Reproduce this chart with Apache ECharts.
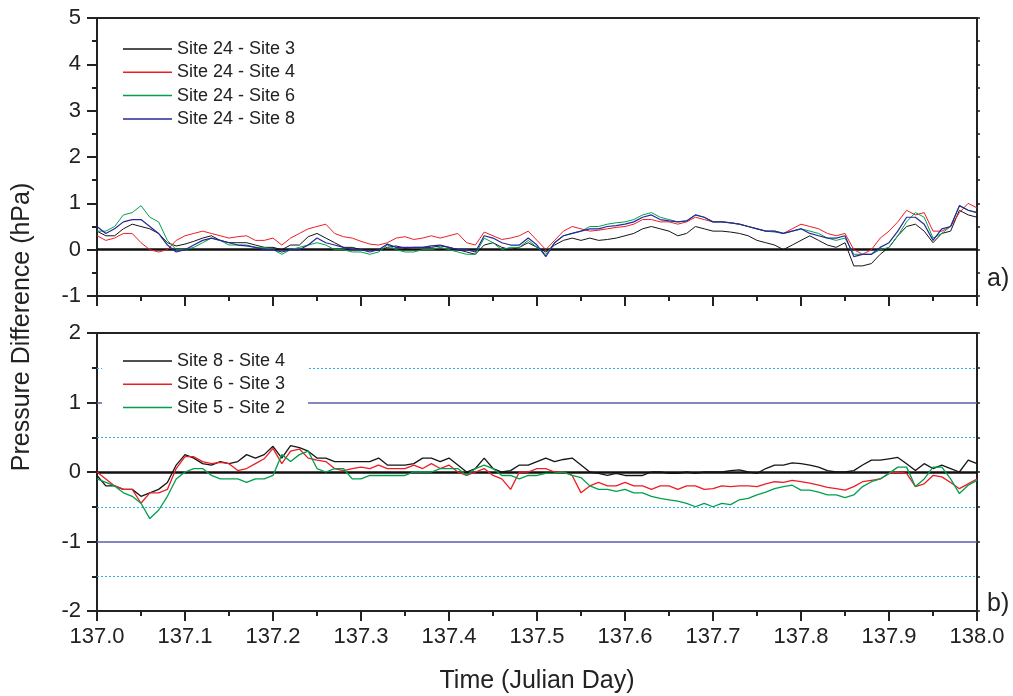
<!DOCTYPE html>
<html><head><meta charset="utf-8">
<script src="https://cdn.jsdelivr.net/npm/echarts@6/dist/echarts.min.js"></script>
<style>html,body{margin:0;padding:0;background:#fff}#c{width:1013px;height:696px}</style>
</head><body><div id="c"></div>
<script>
// Sample times: 137.00 .. 138.00 every 0.01 day
const timeStart = 137.0;
const timeStep = 0.01;

const topNames = ['Site 24 - Site 3', 'Site 24 - Site 4', 'Site 24 - Site 6', 'Site 24 - Site 8'];
const bottomNames = ['Site 8 - Site 4', 'Site 6 - Site 3', 'Site 5 - Site 2'];

const xTickLabels = ['137.0','137.1','137.2','137.3','137.4','137.5','137.6','137.7','137.8','137.9','138.0'];
const topYTicks = [-1, 0, 1, 2, 3, 4, 5];
const bottomYTicks = [-2, -1, 0, 1, 2];

// Panel a)
const s24_3 = [0.4,0.3,0.3,0.45,0.55,0.5,0.45,0.35,0.15,0.08,
  0.12,0.18,0.25,0.3,0.2,0.15,0.15,0.15,0.1,0.05,
  0.05,0.0,0.1,0.1,0.28,0.35,0.25,0.15,0.05,0.05,
  0.0,0.0,-0.02,0.05,0.08,0.03,0.05,0.05,0.05,0.08,
  0.05,0.0,-0.05,-0.1,0.1,0.15,0.05,0.0,0.05,0.15,
  0.05,-0.05,0.1,0.2,0.25,0.2,0.25,0.2,0.22,0.25,
  0.3,0.35,0.45,0.5,0.45,0.4,0.3,0.35,0.5,0.45,
  0.4,0.4,0.38,0.35,0.3,0.2,0.15,0.1,0.0,0.1,
  0.2,0.3,0.2,0.1,0.05,0.15,-0.35,-0.35,-0.3,-0.1,
  0.05,0.3,0.5,0.55,0.4,0.15,0.35,0.4,0.85,0.75,0.7];
const s24_4 = [0.3,0.2,0.25,0.35,0.35,0.15,0.0,-0.05,0.0,0.2,
  0.3,0.35,0.4,0.35,0.3,0.25,0.28,0.3,0.2,0.2,
  0.25,0.1,0.25,0.35,0.45,0.5,0.55,0.35,0.28,0.25,
  0.18,0.12,0.1,0.15,0.25,0.28,0.22,0.25,0.3,0.25,
  0.3,0.35,0.15,0.1,0.38,0.3,0.22,0.25,0.3,0.4,
  0.2,0.0,0.2,0.4,0.5,0.45,0.4,0.42,0.45,0.48,
  0.5,0.55,0.65,0.65,0.6,0.6,0.55,0.6,0.7,0.65,
  0.6,0.6,0.58,0.55,0.5,0.45,0.4,0.4,0.35,0.45,
  0.55,0.5,0.45,0.35,0.3,0.35,0.0,-0.1,0.0,0.25,
  0.4,0.6,0.85,0.75,0.8,0.4,0.4,0.5,0.8,1.0,0.9];
const s24_6 = [0.4,0.4,0.5,0.75,0.8,0.95,0.7,0.6,0.2,0.0,
  0.0,0.05,0.15,0.25,0.2,0.1,0.1,0.1,0.05,0.05,
  0.0,-0.1,0.0,0.05,0.1,0.15,0.1,0.0,0.0,-0.05,
  -0.05,-0.1,-0.05,0.1,0.0,-0.05,-0.05,0.0,0.0,0.05,
  0.0,-0.05,-0.1,-0.1,0.25,0.15,0.0,0.05,0.05,0.2,
  0.05,-0.1,0.15,0.3,0.35,0.4,0.5,0.5,0.55,0.58,
  0.6,0.65,0.75,0.8,0.7,0.65,0.6,0.62,0.75,0.7,
  0.6,0.6,0.58,0.55,0.5,0.45,0.4,0.38,0.35,0.4,
  0.45,0.4,0.35,0.25,0.2,0.25,-0.1,-0.1,-0.1,0.0,
  0.05,0.3,0.6,0.8,0.7,0.25,0.35,0.5,0.95,0.85,0.8];
const s24_8 = [0.5,0.35,0.45,0.6,0.65,0.65,0.5,0.35,0.1,-0.05,
  0.0,0.1,0.2,0.25,0.2,0.15,0.1,0.08,0.05,0.0,
  0.0,-0.05,0.0,0.0,0.1,0.25,0.15,0.1,0.05,0.0,
  0.0,-0.05,0.0,0.12,0.05,0.05,0.05,0.05,0.08,0.1,
  0.05,0.0,0.0,-0.05,0.3,0.25,0.15,0.1,0.1,0.25,
  0.1,-0.15,0.15,0.3,0.35,0.4,0.45,0.45,0.5,0.52,
  0.55,0.6,0.7,0.75,0.65,0.62,0.6,0.62,0.75,0.7,
  0.6,0.6,0.58,0.55,0.5,0.45,0.4,0.4,0.35,0.4,
  0.45,0.35,0.3,0.25,0.25,0.3,-0.15,-0.1,-0.1,0.05,
  0.15,0.4,0.7,0.7,0.55,0.2,0.45,0.5,0.95,0.85,0.8];

// Panel b)
const s8_4 = [-0.05,-0.2,-0.2,-0.25,-0.25,-0.35,-0.3,-0.25,-0.15,0.1,
  0.25,0.2,0.12,0.1,0.15,0.12,0.15,0.25,0.2,0.25,
  0.37,0.2,0.38,0.35,0.3,0.2,0.2,0.15,0.15,0.15,
  0.15,0.15,0.2,0.1,0.1,0.1,0.12,0.2,0.2,0.15,
  0.2,0.1,0.0,0.05,0.2,0.05,0.0,0.02,0.1,0.1,
  0.15,0.2,0.15,0.18,0.2,0.1,0.0,-0.02,-0.05,-0.02,
  -0.05,-0.05,-0.05,0.0,0.0,-0.02,-0.02,0.0,-0.02,0.0,
  0.0,0.0,0.02,0.03,0.0,-0.02,0.05,0.1,0.1,0.13,
  0.12,0.1,0.07,0.02,0.0,0.0,0.02,0.1,0.17,0.17,
  0.19,0.21,0.12,0.02,0.12,0.05,0.1,0.05,0.0,0.17,0.12];
const s6_3 = [0.0,-0.1,-0.2,-0.25,-0.25,-0.45,-0.3,-0.3,-0.25,0.05,
  0.22,0.22,0.15,0.12,0.14,0.12,0.02,0.05,0.12,0.19,
  0.34,0.12,0.3,0.33,0.2,0.17,0.15,0.05,0.02,0.05,
  0.07,0.05,0.1,0.05,0.05,0.05,0.1,0.05,0.12,0.05,
  0.1,0.0,-0.05,0.0,0.05,-0.05,-0.1,-0.25,0.0,0.0,
  0.05,0.05,0.0,0.0,-0.05,-0.3,-0.2,-0.15,-0.2,-0.2,
  -0.15,-0.2,-0.2,-0.25,-0.2,-0.2,-0.25,-0.2,-0.2,-0.25,
  -0.24,-0.2,-0.21,-0.2,-0.2,-0.21,-0.17,-0.14,-0.15,-0.12,
  -0.14,-0.16,-0.19,-0.22,-0.24,-0.26,-0.21,-0.14,-0.12,-0.1,
  -0.02,0.0,-0.02,-0.21,-0.17,-0.05,-0.07,-0.15,-0.24,-0.17,-0.1];
const s5_2 = [-0.1,-0.15,-0.2,-0.3,-0.35,-0.45,-0.67,-0.55,-0.35,-0.1,
  0.0,0.05,0.05,-0.05,-0.1,-0.1,-0.1,-0.15,-0.1,-0.1,
  -0.05,0.25,0.15,0.25,0.3,0.05,0.0,0.05,0.05,-0.1,
  -0.1,-0.05,-0.05,-0.05,-0.05,-0.05,0.0,0.0,0.0,0.05,
  0.05,0.05,-0.05,0.05,0.1,0.05,-0.05,-0.05,-0.1,-0.05,
  -0.05,-0.02,-0.02,0.0,-0.05,-0.08,-0.2,-0.25,-0.25,-0.28,
  -0.25,-0.3,-0.3,-0.35,-0.38,-0.4,-0.42,-0.45,-0.5,-0.45,
  -0.5,-0.45,-0.47,-0.4,-0.38,-0.33,-0.29,-0.24,-0.21,-0.19,
  -0.26,-0.26,-0.29,-0.33,-0.33,-0.37,-0.33,-0.21,-0.14,-0.1,
  -0.02,0.07,0.07,-0.21,-0.1,0.07,0.07,-0.1,-0.31,-0.19,-0.12];

function pts(vals) { return vals.map((v, i) => [timeStart + i * timeStep, v]); }

const txt = '#222';
const font = 'Liberation Sans, Arial, sans-serif';

function xAx(grid, showLabels) {
  return {
    gridIndex: grid, type: 'value', min: 137, max: 138, interval: 0.1,
    axisLine: { onZero: false, lineStyle: { color: txt, width: 2 } },
    axisTick: { show: true, inside: false, length: 10, lineStyle: { color: txt, width: 2 } },
    minorTick: { show: true, splitNumber: 2, length: 5, lineStyle: { color: txt, width: 2 } },
    splitLine: { show: false },
    axisLabel: showLabels ? { show: true, fontSize: 22, color: txt, fontFamily: font, margin: 15,
      formatter: v => xTickLabels[Math.round((v - 137) * 10)] } : { show: false },
    name: showLabels ? 'Time (Julian Day)' : '',
    nameLocation: 'middle', nameGap: 58,
    nameTextStyle: { fontSize: 25, color: txt, fontFamily: font }
  };
}
function xTopBorder(grid) {
  return { gridIndex: grid, type: 'value', position: 'top', min: 137, max: 138,
    axisLine: { onZero: false, lineStyle: { color: txt, width: 2 } }, axisTick: { show: false },
    axisLabel: { show: false }, splitLine: { show: false } };
}
function yAx(grid, ticks) {
  return {
    gridIndex: grid, type: 'value', min: ticks[0], max: ticks[ticks.length - 1], interval: 1,
    axisLine: { show: true, onZero: false, lineStyle: { color: txt, width: 2 } },
    axisTick: { show: true, inside: false, length: 10, lineStyle: { color: txt, width: 2 } },
    minorTick: { show: true, splitNumber: 2, length: 5, lineStyle: { color: txt, width: 2 } },
    splitLine: { show: false },
    axisLabel: { fontSize: 22, color: txt, fontFamily: font, margin: 16,
      formatter: v => String(ticks[ticks.indexOf(v)]) }
  };
}
function yRight(grid, ticks) {
  return {
    gridIndex: grid, type: 'value', position: 'right', min: ticks[0], max: ticks[ticks.length - 1], interval: 0.5,
    axisLine: { show: true, onZero: false, lineStyle: { color: txt, width: 2 } },
    axisTick: { show: true, inside: false, length: 3, lineStyle: { color: txt, width: 1.5 } },
    axisLabel: { show: false }, splitLine: { show: false }
  };
}

const zeroLine = { yAxis: 0, lineStyle: { color: '#111', width: 2.5, type: 'solid' } };
const blueLine = v => ({ yAxis: v, lineStyle: { color: '#5c5cae', width: 1.5, type: 'solid' } });
const dotLine = v => ({ yAxis: v, lineStyle: { color: '#2fb0e8', width: 1, type: [2, 2] } });

function lineSeries(name, vals, color, x, y, width, ml) {
  const s = { name, type: 'line', xAxisIndex: x, yAxisIndex: y, data: pts(vals), symbol: 'none',
    showSymbol: false, lineStyle: { color, width }, itemStyle: { color }, animation: false, z: 3 };
  if (ml) s.markLine = { silent: true, symbol: ['none', 'none'], label: { show: false }, data: ml, animation: false, z: 2 };
  return s;
}

const colBlack = '#151515', colRed = '#ee1d24', colGreen = '#00a04b', colBlue = '#27279a';

const legendCommon = {
  orient: 'vertical', left: 102, itemWidth: 49, itemHeight: 1.5, itemGap: 5.3, icon: 'rect',
  backgroundColor: '#fff', padding: [6, 23, 6, 21], z: 10,
  textStyle: { fontSize: 18, color: txt, fontFamily: font, lineHeight: 18 },
  selectedMode: false
};

const option = {
  animation: false,
  backgroundColor: '#fff',
  grid: [
    { left: 97, top: 18, width: 880, height: 278 },
    { left: 97, top: 333, width: 880, height: 278 }
  ],
  xAxis: [xAx(0, false), xAx(1, true), xTopBorder(0), xTopBorder(1)],
  yAxis: [yAx(0, topYTicks), yAx(1, bottomYTicks), yRight(0, topYTicks), yRight(1, bottomYTicks)],
  legend: [
    Object.assign({}, legendCommon, { top: 34, data: topNames }),
    Object.assign({}, legendCommon, { top: 346, data: bottomNames })
  ],
  series: [
    lineSeries(topNames[0], s24_3, colBlack, 0, 0, 1, [zeroLine]),
    lineSeries(topNames[1], s24_4, colRed, 0, 0, 1),
    lineSeries(topNames[2], s24_6, colGreen, 0, 0, 1),
    lineSeries(topNames[3], s24_8, colBlue, 0, 0, 1.2),
    lineSeries(bottomNames[0], s8_4, colBlack, 1, 1, 1.3,
      [zeroLine, blueLine(1), blueLine(-1), dotLine(0.5), dotLine(-0.5), dotLine(1.5), dotLine(-1.5)]),
    lineSeries(bottomNames[1], s6_3, colRed, 1, 1, 1.3),
    lineSeries(bottomNames[2], s5_2, colGreen, 1, 1, 1.3)
  ],
  graphic: [
    { type: 'text', x: 22, y: 327, rotation: Math.PI / 2,
      style: { text: 'Pressure Difference (hPa)', fontSize: 25, fill: txt, fontFamily: font,
        textAlign: 'center', textVerticalAlign: 'middle' } },
    { type: 'text', x: 987, y: 279,
      style: { text: 'a)', fontSize: 25, fill: txt, fontFamily: font, textVerticalAlign: 'middle' } },
    { type: 'text', x: 987, y: 604,
      style: { text: 'b)', fontSize: 25, fill: txt, fontFamily: font, textVerticalAlign: 'middle' } }
  ]
};

const chart = echarts.init(document.getElementById('c'), null, { renderer: 'canvas' });
chart.setOption(option);
</script>
</body></html>
